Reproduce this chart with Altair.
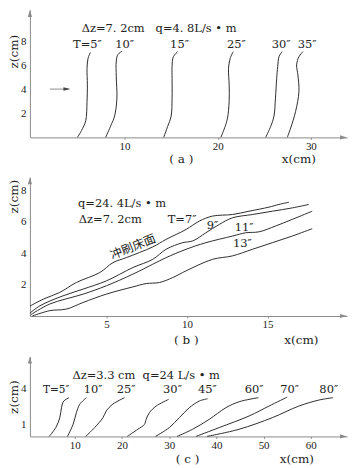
import altair as alt
import pandas as pd

# ---------------- panel (a): q=4.8 L/s·m, Δz=7.2 cm ----------------
a_t5_x = [4.94, 5.37, 5.83, 5.97, 6.01, 5.97, 6.08, 6.33]
a_t5_z = [0.00, 0.56, 1.39, 3.00, 4.39, 5.78, 6.61, 7.11]
a_t10_x = [7.97, 8.57, 8.93, 9.18, 9.11, 9.11, 9.29, 9.75]
a_t10_z = [0.00, 1.06, 1.78, 3.28, 5.06, 6.39, 6.94, 7.22]
a_t15_x = [14.20, 14.63, 15.00, 15.10, 15.10, 15.10, 15.24, 15.70]
a_t15_z = [0.00, 0.92, 1.78, 3.28, 4.94, 5.92, 6.75, 7.17]
a_t25_x = [20.34, 20.80, 21.05, 21.23, 21.23, 21.16, 21.34, 21.66]
a_t25_z = [0.00, 0.92, 1.61, 3.00, 4.39, 5.78, 6.61, 7.17]
a_t30_x = [25.15, 25.69, 26.04, 26.20, 26.33, 26.44, 26.58, 26.90]
a_t30_z = [0.00, 0.92, 1.78, 3.28, 4.94, 5.92, 6.75, 7.17]
a_t35_x = [27.47, 27.83, 28.36, 28.72, 28.61, 28.47, 28.72, 29.14]
a_t35_z = [0.00, 0.78, 2.17, 3.83, 5.22, 6.06, 6.75, 7.17]
a_xticks = [10, 20, 30]
a_zticks = [2, 4, 6, 8]

# ---------------- panel (b): q=24.4 L/s·m, Δz=7.2 cm ----------------
b_t7_x = [0.25, 1.07, 2.10, 3.13, 4.58, 5.40, 6.23, 7.87, 8.70, 9.94, 10.76, 11.58, 12.82, 13.85, 15.09, 15.70, 16.33]
b_t7_z = [0.63, 1.07, 1.50, 2.13, 2.76, 3.39, 3.71, 4.39, 4.87, 5.50, 6.03, 6.35, 6.45, 6.66, 6.92, 7.09, 7.23]
b_t9_x = [0.25, 0.87, 2.30, 3.55, 4.99, 6.64, 7.87, 8.70, 9.73, 10.35, 11.17, 12.00, 12.82, 14.06, 15.30, 16.53, 17.56]
b_t9_z = [0.18, 0.65, 1.28, 1.71, 2.23, 3.08, 3.60, 4.24, 4.66, 4.77, 5.29, 5.82, 6.24, 6.45, 6.66, 6.87, 7.09]
b_t11_x = [0.30, 1.48, 3.55, 4.99, 6.64, 7.87, 8.70, 9.94, 11.17, 12.82, 13.64, 14.47, 15.50, 16.53, 17.77]
b_t11_z = [0.08, 0.76, 1.39, 1.92, 2.66, 3.29, 3.71, 4.24, 4.66, 5.08, 5.29, 5.35, 5.72, 6.14, 6.66]
b_t13_x = [0.40, 1.48, 2.51, 3.55, 4.99, 6.64, 7.46, 8.29, 9.11, 9.94, 11.58, 12.82, 14.06, 15.30, 16.53, 17.77]
b_t13_z = [0.00, 0.34, 0.44, 0.86, 1.39, 1.85, 2.06, 2.13, 2.44, 2.87, 3.60, 3.82, 4.24, 4.66, 5.08, 5.55]
b_xticks = [5, 10, 15]
b_zticks = [2, 4, 6, 8]

# ---------------- panel (c): q=24 L/s·m, Δz=3.3 cm ----------------
c_t5_x = [4.58, 5.99, 6.84, 7.19, 7.68, 8.80]
c_t5_z = [0.00, 0.74, 1.57, 2.40, 2.96, 3.24]
c_t10_x = [8.45, 9.65, 10.35, 11.05, 12.46]
c_t10_z = [0.00, 1.01, 1.99, 2.68, 3.24]
c_t25_x = [12.32, 14.22, 15.98, 16.68, 18.09, 20.55]
c_t25_z = [0.00, 0.74, 1.57, 2.13, 2.71, 3.24]
c_t30_x = [21.11, 23.36, 24.77, 25.12, 25.82, 27.23, 29.90]
c_t30_z = [0.00, 0.60, 1.01, 1.43, 1.99, 2.54, 3.10]
c_t45_x = [27.09, 30.04, 32.15, 34.26, 36.37, 38.13]
c_t45_z = [0.00, 0.74, 1.57, 2.40, 2.96, 3.15]
c_t60_x = [31.66, 34.96, 38.48, 42.00, 44.81, 48.89]
c_t60_z = [0.00, 0.60, 1.43, 2.40, 2.90, 3.24]
c_t70_x = [35.67, 40.59, 46.92, 51.14, 55.00]
c_t70_z = [0.00, 0.74, 1.71, 2.54, 3.29]
c_t80_x = [37.99, 44.81, 51.84, 57.47, 61.69, 64.71]
c_t80_z = [0.00, 0.60, 1.57, 2.54, 3.04, 3.24]
c_xticks = [10, 20, 30, 40, 50, 60]
c_zticks = [1, 2, 3, 4]

TICKFONT = "Liberation Serif"
FONT = "DejaVu Serif"
CJK = "Noto Sans CJK SC"
TXT = "#222222"
AXC = "#8c8c8c"
LINEC = "#2e2e2e"
SP = "\u00a0"


def curves(series):
    rows = []
    for lab, xs, zs in series:
        for i, (xv, zv) in enumerate(zip(xs, zs)):
            rows.append({"T": lab, "x": xv, "z": zv, "i": i})
    return pd.DataFrame(rows)


def panel(df, xdom, zdom, xticks, zticks, w, h, notes, ytitle_y, cap, cap_xy, xt_xy, extra=None):
    xs = alt.Scale(domain=xdom, nice=False, zero=False)
    zs = alt.Scale(domain=zdom, nice=False, zero=False)
    xax = alt.Axis(values=xticks, title=None, grid=False, ticks=True, tickSize=2,
                   tickColor=AXC, domainColor=AXC, labelFont=TICKFONT, labelFontSize=11,
                   labelColor=TXT, labelPadding=1, format="d", labelOverlap=False)
    zax = alt.Axis(values=zticks, title=None, grid=False, ticks=False,
                   domainColor=AXC, labelFont=TICKFONT, labelFontSize=11,
                   labelColor=TXT, labelPadding=4, format="d", labelOverlap=False)
    lines = alt.Chart(df).mark_line(color=LINEC, strokeWidth=1, interpolate="catmull-rom").encode(
        x=alt.X("x:Q", scale=xs, axis=xax),
        y=alt.Y("z:Q", scale=zs, axis=zax),
        detail="T:N",
        order="i:Q",
    )
    layers = [lines]
    # annotations
    for txt, xv, zv, align, size, font, angle in notes:
        nd = pd.DataFrame({"t": [txt], "x": [xv], "z": [zv]})
        kw = dict(align=align, baseline="middle", font=font, fontSize=size, color=TXT)
        if angle:
            kw["angle"] = angle
        layers.append(alt.Chart(nd).mark_text(**kw).encode(
            x=alt.X("x:Q", scale=xs), y=alt.Y("z:Q", scale=zs), text="t:N"))
    # arrowheads at axis ends
    up = pd.DataFrame({"x": [xdom[0]], "z": [zdom[1]]})
    layers.append(alt.Chart(up).mark_point(shape="M0,-1L0.6,1L-0.6,1Z", size=50, filled=True,
                                           color=AXC, opacity=1, strokeWidth=0, yOffset=3.5).encode(
        x=alt.X("x:Q", scale=xs), y=alt.Y("z:Q", scale=zs)))
    rt = pd.DataFrame({"x": [xdom[1]], "z": [zdom[0]]})
    layers.append(alt.Chart(rt).mark_point(shape="M1,0L-1,-0.6L-1,0.6Z", size=50, filled=True,
                                           color=AXC, opacity=1, strokeWidth=0, xOffset=-3.5).encode(
        x=alt.X("x:Q", scale=xs), y=alt.Y("z:Q", scale=zs)))
    if extra is not None:
        layers.extend(extra(xs, zs))
    # titles and caption (outside plot area)
    one = pd.DataFrame({"t": ["z(cm)"]})
    layers.append(alt.Chart(one).mark_text(angle=270, align="center", baseline="middle",
                                           font=FONT, fontSize=12, color=TXT).encode(
        text="t:N", x=alt.value(-16), y=alt.value(ytitle_y)))
    capd = pd.DataFrame({"t": [cap]})
    layers.append(alt.Chart(capd).mark_text(align="center", baseline="middle",
                                            font=FONT, fontSize=12, color=TXT).encode(
        text="t:N", x=alt.value(cap_xy[0]), y=alt.value(cap_xy[1])))
    xtd = pd.DataFrame({"t": ["x(cm)"]})
    layers.append(alt.Chart(xtd).mark_text(align="center", baseline="middle",
                                           font=FONT, fontSize=12, color=TXT).encode(
        text="t:N", x=alt.value(xt_xy[0]), y=alt.value(xt_xy[1])))
    return alt.layer(*layers).properties(width=w, height=h)


W = 318.3
FS = 11.5
# ---- (a)
dfa = curves([("5", a_t5_x, a_t5_z), ("10", a_t10_x, a_t10_z), ("15", a_t15_x, a_t15_z),
              ("25", a_t25_x, a_t25_z), ("30", a_t30_x, a_t30_z), ("35", a_t35_x, a_t35_z)])
notes_a = [
    ("Δz=7. 2cm" + SP * 3 + "q=4. 8L/s • m", 5.4, 9.1, "left", FS, FONT, 0),
    ("T=5″", 4.47, 7.7, "left", FS, FONT, 0),
    ("10″", 10.0, 7.7, "center", FS, FONT, 0),
    ("15″", 15.9, 7.7, "center", FS, FONT, 0),
    ("25″", 22.0, 7.7, "center", FS, FONT, 0),
    ("30″", 26.8, 7.7, "center", FS, FONT, 0),
    ("35″", 29.6, 7.7, "center", FS, FONT, 0),
]


def flow_arrow(xs, zs):
    ar = pd.DataFrame({"x": [1.98], "x2": [3.9], "z": [4.04]})
    tip = pd.DataFrame({"x": [4.19], "z": [4.04]})
    return [
        alt.Chart(ar).mark_rule(color=AXC, strokeWidth=1).encode(
            x=alt.X("x:Q", scale=xs), x2="x2:Q", y=alt.Y("z:Q", scale=zs)),
        alt.Chart(tip).mark_point(shape="M1,0L-1,-0.5L-1,0.5Z", size=50, filled=True,
                                  color="#444444", opacity=1, strokeWidth=0, xOffset=-3.5).encode(
            x=alt.X("x:Q", scale=xs), y=alt.Y("z:Q", scale=zs)),
    ]


pa = panel(dfa, [-0.16, 33.88], [0, 10.67], a_xticks, a_zticks, W, 128, notes_a,
           42, "( a )", (152, 150), (270, 150), extra=flow_arrow)

# ---- (b)
dfb = curves([("7", b_t7_x, b_t7_z), ("9", b_t9_x, b_t9_z), ("11", b_t11_x, b_t11_z),
              ("13", b_t13_x, b_t13_z)])
notes_b = [
    ("q=24. 4L/s • m", 3.23, 7.13, "left", FS, FONT, 0),
    ("Δz=7. 2cm", 3.28, 6.1, "left", FS, FONT, 0),
    ("T=7″", 8.8, 6.1, "left", FS, FONT, 0),
    ("9″", 11.58, 5.72, "center", FS, FONT, 0),
    ("11″", 13.54, 5.6, "center", FS, FONT, 0),
    ("13″", 13.44, 4.6, "center", FS, FONT, 0),
    ("冲刷床面", 6.64, 4.4, "center", 12, CJK, 338),
]
pb = panel(dfb, [0.247, 19.93], [0, 8.82], b_xticks, b_zticks, W, 139.3, notes_b,
           19.5, "( b )", (157, 163.5), (272.5, 163.5))

# ---- (c)
dfc = curves([("5", c_t5_x, c_t5_z), ("10", c_t10_x, c_t10_z), ("25", c_t25_x, c_t25_z),
              ("30", c_t30_x, c_t30_z), ("45", c_t45_x, c_t45_z), ("60", c_t60_x, c_t60_z),
              ("70", c_t70_x, c_t70_z), ("80", c_t80_x, c_t80_z)])
notes_c = [
    ("Δz=3.3 cm" + SP * 2 + "q=24 L/s • m", 9.5, 5.04, "left", FS, FONT, 0),
    ("T=5″", 3.3, 3.85, "left", 10.5, FONT, 0),
    ("10″", 13.9, 3.85, "center", FS, FONT, 0),
    ("25″", 20.9, 3.85, "center", FS, FONT, 0),
    ("30″", 30.7, 3.85, "center", FS, FONT, 0),
    ("45″", 38.1, 3.85, "center", FS, FONT, 0),
    ("60″", 48.0, 3.85, "center", FS, FONT, 0),
    ("70″", 55.5, 3.85, "center", FS, FONT, 0),
    ("80″", 63.8, 3.85, "center", FS, FONT, 0),
]
pc = panel(dfc, [0.506, 67.66], [0, 6.68], c_xticks, c_zticks, W, 80.2, notes_c,
           40.7, "( c )", (158.3, 102.5), (268, 103))

chart = alt.vconcat(pa, pb, pc, spacing=40, bounds="flush").properties(
    padding={"left": 0, "top": 0, "right": 0, "bottom": 0}
).configure_view(stroke=None)

chart.save("out.html", embed_options={"renderer": "svg", "actions": False})
